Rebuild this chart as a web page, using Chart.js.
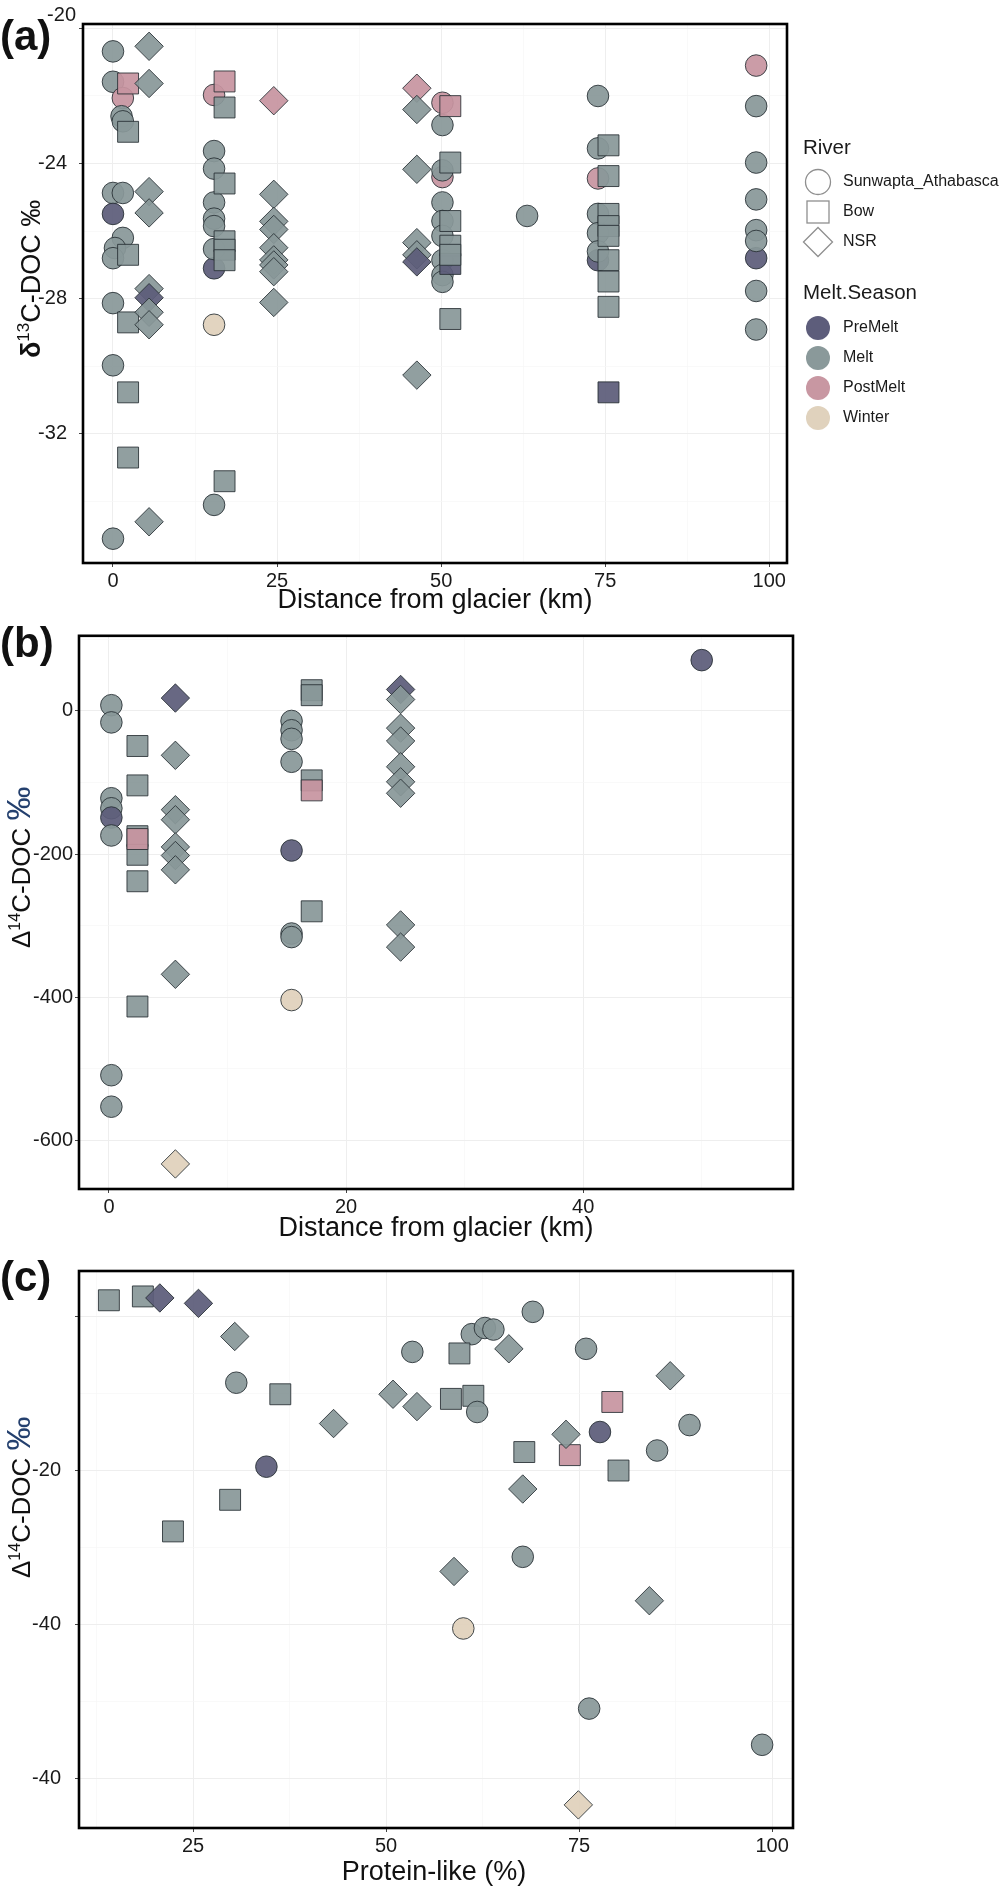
<!DOCTYPE html>
<html><head><meta charset="utf-8">
<script src="https://cdn.jsdelivr.net/npm/chart.js@4.4.1/dist/chart.umd.min.js"></script>
<style>
html,body{margin:0;padding:0;background:#fff;}
#wrap{position:relative;width:1004px;height:1890px;overflow:hidden;}
canvas{position:absolute;left:0;}
</style></head><body>
<div id="wrap">
<canvas id="ca" width="1004" height="620" style="top:0px"></canvas>
<canvas id="cb" width="1004" height="625" style="top:620px"></canvas>
<canvas id="cc" width="1004" height="645" style="top:1245px"></canvas>
</div>
<script>
// ---------- DATA ----------
const riverNames = ['Sunwapta_Athabasca', 'Bow', 'NSR'];
const seasonNames = ['PreMelt', 'Melt', 'PostMelt', 'Winter'];

// Panel (a): distance from glacier (km) vs d13C-DOC
const aDistance = [
  0,0,1.5,1.3,1.5,0,1.5,0,1.5,0.3,0,0,0,0,
  2.3,2.3,2.3,2.3,2.3,2.3,
  5.5,5.5,5.5,5.5,5.5,5.5,5.5,5.5,5.5,
  15.4,15.4,15.4,15.4,15.4,15.4,15.4,15.4,15.4,15.4,
  17,17,17,17,17,17,17,
  24.5,24.5,24.5,24.5,24.5,24.5,24.5,24.5,24.5,
  46.3,46.3,46.3,46.3,46.3,46.3,46.3,
  50.2,50.2,50.2,50.2,50.2,50.2,50.2,50.2,50.2,50.2,
  51.4,51.4,51.4,51.4,51.4,51.4,51.4,
  63.1,
  73.9,73.9,73.9,73.9,73.9,73.9,73.9,
  75.5,75.5,75.5,75.5,75.5,75.5,75.5,75.5,75.5,
  98,98,98,98,98,98,98,98,98
];
const aD13C = [
  -20.68,-21.58,-22.06,-22.6,-22.75,-24.87,-24.87,-25.49,-26.2,-26.5,-26.8,-28.13,-29.97,-35.1,
  -21.63,-23.06,-26.7,-28.7,-30.77,-32.7,
  -20.53,-21.63,-24.83,-25.46,-27.7,-27.97,-28.4,-28.77,-34.6,
  -21.97,-23.63,-24.15,-25.15,-25.63,-25.85,-27.1,-26.53,-28.77,-34.1,
  -21.57,-22.34,-24.59,-26.3,-26.55,-26.86,-33.4,
  -22.14,-24.91,-25.71,-25.95,-26.49,-26.85,-27.0,-27.2,-28.11,
  -21.77,-22.4,-24.17,-26.34,-26.7,-26.91,-30.26,
  -22.2,-22.86,-24.4,-24.2,-25.15,-25.7,-26.14,-26.86,-27.3,-27.5,
  -22.3,-23.97,-25.7,-26.43,-26.97,-26.7,-28.6,
  -25.55,
  -22.0,-23.55,-24.44,-25.49,-26.06,-26.86,-26.6,
  -23.46,-24.37,-25.49,-25.85,-26.14,-26.86,-27.49,-28.24,-30.77,
  -21.1,-22.3,-23.97,-25.06,-25.97,-26.8,-26.29,-27.77,-28.91
];
const aRiver = [
  'S','S','S','S','S','S','S','S','S','S','S','S','S','S',
  'B','B','B','B','B','B',
  'N','N','N','N','N','N','N','N','N',
  'S','S','S','S','S','S','S','S','S','S',
  'B','B','B','B','B','B','B',
  'N','N','N','N','N','N','N','N','N',
  'N','N','N','N','N','N','N',
  'S','S','S','S','S','S','S','S','S','S',
  'B','B','B','B','B','B','B',
  'S',
  'S','S','S','S','S','S','S',
  'B','B','B','B','B','B','B','B','B',
  'S','S','S','S','S','S','S','S','S'
];
const aSeason = [
  'Melt','Melt','Post','Melt','Melt','Melt','Melt','Pre','Melt','Melt','Melt','Melt','Melt','Melt',
  'Post','Melt','Melt','Melt','Melt','Melt',
  'Melt','Melt','Melt','Melt','Melt','Pre','Melt','Melt','Melt',
  'Post','Melt','Melt','Melt','Melt','Melt','Pre','Melt','Win','Melt',
  'Post','Melt','Melt','Melt','Melt','Melt','Melt',
  'Post','Melt','Melt','Melt','Melt','Melt','Melt','Melt','Melt',
  'Post','Melt','Melt','Melt','Melt','Pre','Melt',
  'Post','Melt','Post','Melt','Melt','Melt','Melt','Melt','Melt','Melt',
  'Post','Melt','Melt','Melt','Pre','Melt','Melt',
  'Melt',
  'Melt','Melt','Post','Melt','Melt','Pre','Melt',
  'Melt','Melt','Melt','Melt','Melt','Melt','Melt','Melt','Pre',
  'Post','Melt','Melt','Melt','Melt','Pre','Melt','Melt','Melt'
];

// Panel (b): distance from glacier (km) vs D14C-DOC
const bDistance = [
  0.2,0.2,0.2,0.2,0.2,0.2,0.2,0.2,
  2.4,2.4,2.4,2.4,2.4,2.4,2.4,
  5.6,5.6,5.6,5.6,5.6,5.6,5.6,5.6,5.6,
  15.4,15.4,15.4,15.4,15.4,15.4,15.4,15.4,
  17.1,17.1,17.1,17.1,17.1,
  24.6,24.6,24.6,24.6,24.6,24.6,24.6,24.6,24.6,
  50
];
const bD14C = [
  8,-16,-122,-136,-149,-174,-509,-553,
  -49,-104,-175,-201,-179,-238,-413,
  18,-62,-138,-152,-190,-202,-222,-368,-633,
  -14,-27,-39,-71,-195,-311,-316,-404,
  29,22,-97,-111,-280,
  30,16,-24,-42,-78,-99,-115,-299,-330,
  71
];
const bRiver = [
  'S','S','S','S','S','S','S','S',
  'B','B','B','B','B','B','B',
  'N','N','N','N','N','N','N','N','N',
  'S','S','S','S','S','S','S','S',
  'B','B','B','B','B',
  'N','N','N','N','N','N','N','N','N',
  'S'
];
const bSeason = [
  'Melt','Melt','Melt','Melt','Pre','Melt','Melt','Melt',
  'Melt','Melt','Melt','Melt','Post','Melt','Melt',
  'Pre','Melt','Melt','Melt','Melt','Melt','Melt','Melt','Win',
  'Melt','Melt','Melt','Melt','Pre','Melt','Melt','Win',
  'Melt','Melt','Melt','Post','Melt',
  'Pre','Melt','Melt','Melt','Melt','Melt','Melt','Melt','Melt',
  'Pre'
];

// Panel (c): protein-like (%) vs D14C-DOC
const cProtein = [
  14.1,18.5,20.7,25.7,30.4,30.6,36.3,43.2,34.5,29.8,22.4,50.9,
  69.0,61.1,62.8,63.9,53.4,59.5,65.9,75.9,86.8,54.0,58.4,61.3,61.8,
  79.3,73.8,73.3,77.7,89.3,67.9,85.1,80.1,67.7,67.7,58.8,84.1,60.0,76.3,98.7,74.9
];
const cD14C = [
  21,26,24,17,-26,-86,-101,-139,-195,-238,-279,-101,
  6,-23,-15,-17,-46,-48,-42,-42,-77,-117,-107,-103,-124,
  -111,-180,-153,-150,-141,-176,-174,-200,-224,-312,-331,-369,-405,-509,-556,-634
];
const cRiver = [
  'B','B','N','N','N','S','B','N','S','B','B','N',
  'S','S','S','S','S','B','N','S','N','N','B','B','S',
  'B','B','N','S','S','B','S','B','N','S','N','N','S','S','S','N'
];
const cSeason = [
  'Melt','Melt','Pre','Pre','Melt','Melt','Melt','Melt','Pre','Melt','Melt','Melt',
  'Melt','Melt','Melt','Melt','Melt','Melt','Melt','Melt','Melt','Melt','Melt','Melt','Melt',
  'Post','Post','Melt','Pre','Melt','Melt','Melt','Melt','Melt','Melt','Melt','Melt','Win','Melt','Melt','Win'
];

// Tick values
const aXTicks = [0, 12.5, 25, 37.5, 50, 62.5, 75, 87.5, 100];
const aXMajor = [0, 25, 50, 75, 100];
const aYTicks = [-34, -32, -30, -28, -26, -24, -22, -20];
const aYMajor = [-32, -28, -24, -20];
const bXTicks = [0, 10, 20, 30, 40, 50];
const bXMajor = [0, 20, 40];
const bYTicks = [-600, -500, -400, -300, -200, -100, 0, 100];
const bYMajor = [-600, -400, -200, 0];
const cXTicks = [12.5, 25, 37.5, 50, 62.5, 75, 87.5, 100];
const cXMajor = [25, 50, 75, 100];
const cYTicks = [-600, -500, -400, -300, -200, -100, 0];
const cYMajor = [-600, -400, -200, 0];
const cYMajorLabels = ['-40', '-40', '-20', ''];

// ---------- STYLE ----------
const FONT = '"Liberation Sans", Arial, Helvetica, sans-serif';
const seasonFill = {Pre:'rgba(92,92,122,0.93)', Melt:'rgba(137,152,153,0.93)', Post:'rgba(199,149,160,0.93)', Win:'rgba(224,209,187,0.93)'};
const seasonLegend = ['#5d5d7b', '#8a999a', '#c897a2', '#e0d2bd'];
const shapeOf = {S:'circle', B:'rect', N:'rectRot'};
const radiusOf = {S:10.8, B:14.8, N:14.2};

function near(v, arr){ return arr.some(a => Math.abs(a - v) < 1e-6); }

function makeDataset(xs, ys, rv, ss){
  return {
    type: 'scatter',
    data: xs.map((x, i) => ({x: x, y: ys[i]})),
    pointStyle: c => shapeOf[rv[c.dataIndex]],
    pointRadius: c => radiusOf[rv[c.dataIndex]],
    pointHoverRadius: c => radiusOf[rv[c.dataIndex]],
    pointBackgroundColor: c => seasonFill[ss[c.dataIndex]],
    pointBorderColor: 'rgba(38,46,50,0.85)',
    pointBorderWidth: 1,
    pointHoverBorderWidth: 1
  };
}

function makeScale(min, max, vals, majors, labelFn, pad, prop, size){
  return {
    type: 'linear', min: min, max: max,
    afterBuildTicks: s => { s.ticks = vals.map(v => ({value: v})); },
    afterFit: s => { s[prop] = size; },
    ticks: {
      autoSkip: false, maxRotation: 0, minRotation: 0, padding: pad,
      color: '#1a1a1a', font: {family: FONT, size: 20},
      callback: v => near(v, majors) ? labelFn(v) : ''
    },
    grid: {
      drawTicks: true, tickLength: 4,
      color: c => (c.tick && near(c.tick.value, majors)) ? '#eeeeee' : '#f6f6f6',
      lineWidth: c => (c.tick && near(c.tick.value, majors)) ? 1 : 0.7,
      tickColor: c => (c.tick && near(c.tick.value, majors)) ? '#444' : 'rgba(0,0,0,0)',
      tickWidth: 1
    },
    border: {display: false}
  };
}

function drawRotated(ctx, x, y, parts){
  ctx.save();
  ctx.translate(x, y);
  ctx.rotate(-Math.PI / 2);
  ctx.textBaseline = 'alphabetic';
  ctx.textAlign = 'left';
  let cx = 0;
  for (const p of parts){
    ctx.font = p.font;
    ctx.fillStyle = p.color || '#111';
    ctx.fillText(p.text, cx, p.dy || 0);
    cx += ctx.measureText(p.text).width;
  }
  ctx.restore();
}

function decor(cfg){
  return {
    id: 'decor',
    afterDraw(chart){
      const ctx = chart.ctx, a = chart.chartArea;
      ctx.save();
      ctx.strokeStyle = '#000';
      ctx.lineWidth = 2.6;
      ctx.strokeRect(a.left, a.top, a.right - a.left, a.bottom - a.top);
      // panel label
      ctx.fillStyle = '#111';
      ctx.font = 'bold 42px ' + FONT;
      ctx.textAlign = 'left'; ctx.textBaseline = 'middle';
      ctx.fillText(cfg.label, 0, cfg.labelY);
      // extra offset tick label
      if (cfg.extraTick){
        ctx.font = '20px ' + FONT;
        ctx.fillStyle = '#1a1a1a';
        ctx.textAlign = 'right'; ctx.textBaseline = 'middle';
        ctx.fillText(cfg.extraTick.text, cfg.extraTick.x, cfg.extraTick.y);
      }
      // x title
      ctx.fillStyle = '#111';
      ctx.font = '27px ' + FONT;
      ctx.textAlign = 'center'; ctx.textBaseline = 'middle';
      ctx.fillText(cfg.xTitle, cfg.xTitleX, cfg.xTitleY);
      // y title
      drawRotated(ctx, cfg.yTitleX, cfg.yTitleY, cfg.yParts);
      if (cfg.legend) drawLegend(ctx);
      ctx.restore();
    }
  };
}

function drawLegend(ctx){
  ctx.save();
  ctx.fillStyle = '#1a1a1a';
  ctx.textAlign = 'left'; ctx.textBaseline = 'middle';
  ctx.font = '20.5px ' + FONT;
  ctx.fillText('River', 803, 148);
  ctx.fillText('Melt.Season', 803, 293);
  const mx = 818;
  ctx.strokeStyle = '#8f8f8f'; ctx.lineWidth = 1.3;
  ctx.beginPath(); ctx.arc(mx, 182, 12.5, 0, Math.PI * 2); ctx.stroke();
  ctx.strokeRect(mx - 11, 212 - 11, 22, 22);
  ctx.beginPath(); ctx.moveTo(mx - 14.5, 242); ctx.lineTo(mx, 242 - 14.5); ctx.lineTo(mx + 14.5, 242); ctx.lineTo(mx, 242 + 14.5); ctx.closePath(); ctx.stroke();
  ctx.font = '16px ' + FONT;
  const ry = [182, 212, 242];
  riverNames.forEach((n, i) => ctx.fillText(n, 843, ry[i]));
  const sy = [328, 358, 388, 418];
  seasonNames.forEach((n, i) => {
    ctx.fillStyle = seasonLegend[i];
    ctx.beginPath(); ctx.arc(mx, sy[i], 12, 0, Math.PI * 2); ctx.fill();
    ctx.fillStyle = '#1a1a1a';
    ctx.fillText(n, 843, sy[i]);
  });
  ctx.restore();
}

function baseOptions(pad){
  return {
    responsive: false, maintainAspectRatio: false, animation: false, events: [],
    layout: {padding: pad},
    plugins: {legend: {display: false}, tooltip: {enabled: false}}
  };
}

const fmt = v => String(v);

// Panel (a)
const optA = baseOptions({top: 3, right: 217, left: 0, bottom: 0});
optA.scales = {
  x: makeScale(-4.57, 102.7, aXTicks, aXMajor, fmt, 2, 'height', 57),
  y: makeScale(-35.82, -19.87, aYTicks, aYMajor, v => (v === -20 ? '' : String(v)), 12, 'width', 83)
};
new Chart(document.getElementById('ca'), {
  type: 'scatter',
  data: {datasets: [makeDataset(aDistance, aD13C, aRiver, aSeason)]},
  options: optA,
  plugins: [decor({
    label: '(a)', labelY: 38,
    extraTick: {text: '-20', x: 76, y: 15},
    xTitle: 'Distance from glacier (km)', xTitleX: 435, xTitleY: 601,
    yTitleX: 40, yTitleY: 358,
    yParts: [{text: 'δ', font: 'bold 27px ' + FONT}, {text: '13', font: '17px ' + FONT, dy: -11}, {text: 'C-DOC ‰', font: '27px ' + FONT}],
    legend: true
  })]
});

// Panel (b)
const optB = baseOptions({top: 5, right: 211, left: 0, bottom: 0});
optB.scales = {
  x: makeScale(-2.53, 57.7, bXTicks, bXMajor, fmt, 2, 'height', 56),
  y: makeScale(-668, 105, bYTicks, bYMajor, fmt, 2, 'width', 79)
};
new Chart(document.getElementById('cb'), {
  type: 'scatter',
  data: {datasets: [makeDataset(bDistance, bD14C, bRiver, bSeason)]},
  options: optB,
  plugins: [decor({
    label: '(b)', labelY: 25,
    xTitle: 'Distance from glacier (km)', xTitleX: 436, xTitleY: 609,
    yTitleX: 30, yTitleY: 328,
    yParts: [{text: 'Δ', font: '26px ' + FONT}, {text: '14', font: '16px ' + FONT, dy: -10}, {text: 'C-DOC ', font: '26px ' + FONT}, {text: '‰', font: '34px ' + FONT, color: '#24406e'}]
  })]
});

// Panel (c)
const optC = baseOptions({top: 8, right: 211, left: 0, bottom: 0});
optC.scales = {
  x: makeScale(10.23, 102.7, cXTicks, cXMajor, fmt, 2, 'height', 62),
  y: makeScale(-664, 59, cYTicks, cYMajor, v => cYMajorLabels[cYMajor.findIndex(m => Math.abs(m - v) < 1e-6)], 14, 'width', 79)
};
new Chart(document.getElementById('cc'), {
  type: 'scatter',
  data: {datasets: [makeDataset(cProtein, cD14C, cRiver, cSeason)]},
  options: optC,
  plugins: [decor({
    label: '(c)', labelY: 34,
    xTitle: 'Protein-like (%)', xTitleX: 434, xTitleY: 628,
    yTitleX: 30, yTitleY: 333,
    yParts: [{text: 'Δ', font: '26px ' + FONT}, {text: '14', font: '16px ' + FONT, dy: -10}, {text: 'C-DOC ', font: '26px ' + FONT}, {text: '‰', font: '34px ' + FONT, color: '#24406e'}]
  })]
});
</script>
</body></html>
